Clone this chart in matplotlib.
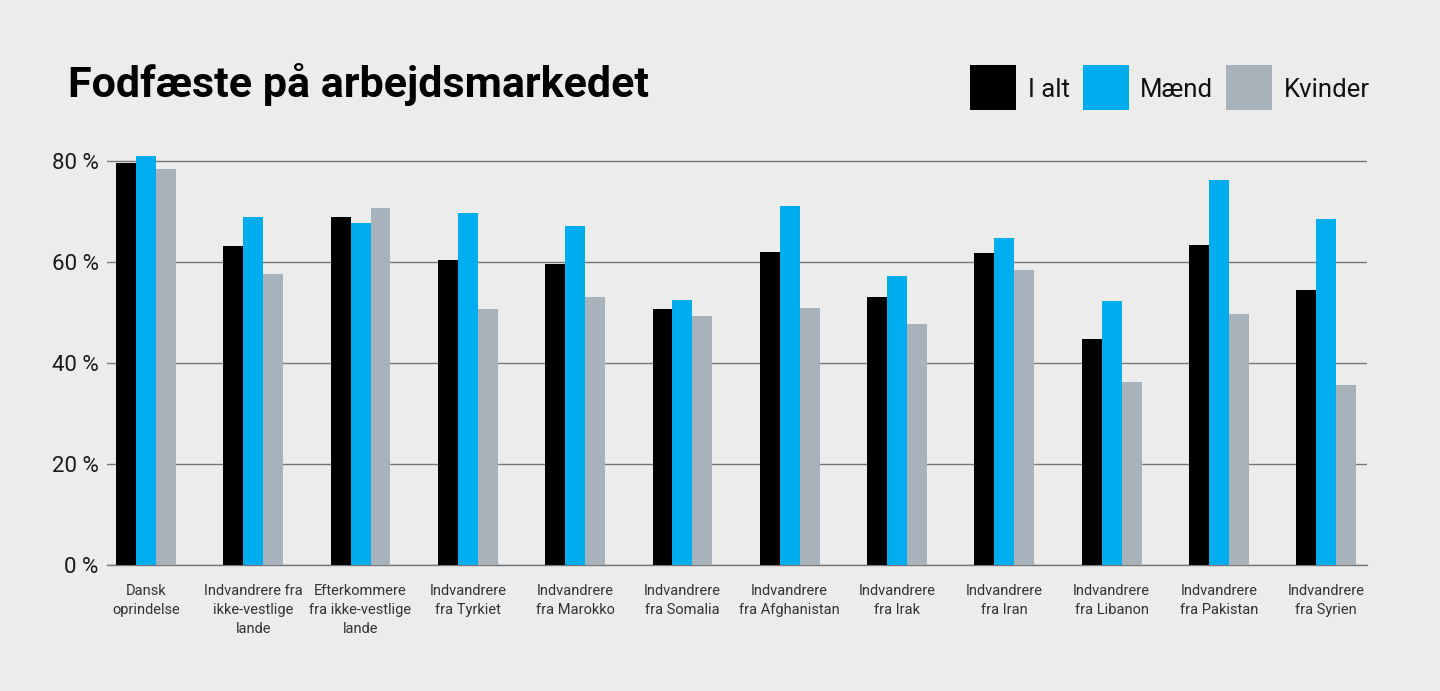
import matplotlib
matplotlib.use("Agg")
import matplotlib.pyplot as plt
from matplotlib.patches import Rectangle
import numpy as np

categories = [
    "Dansk\noprindelse",
    "Indvandrere fra\nikke-vestlige\nlande",
    "Efterkommere\nfra ikke-vestlige\nlande",
    "Indvandrere\nfra Tyrkiet",
    "Indvandrere\nfra Marokko",
    "Indvandrere\nfra Somalia",
    "Indvandrere\nfra Afghanistan",
    "Indvandrere\nfra Irak",
    "Indvandrere\nfra Iran",
    "Indvandrere\nfra Libanon",
    "Indvandrere\nfra Pakistan",
    "Indvandrere\nfra Syrien",
]
i_alt = [79.6, 63.1, 68.9, 60.5, 59.6, 50.7, 62.0, 53.0, 61.9, 44.8, 63.3, 54.4]
maend = [81.1, 68.9, 67.8, 69.8, 67.2, 52.5, 71.2, 57.2, 64.8, 52.3, 76.3, 68.5]
kvinder = [78.5, 57.7, 70.7, 50.7, 53.0, 49.3, 51.0, 47.7, 58.4, 36.2, 49.8, 35.6]
series_names = ["I alt", "Mænd", "Kvinder"]
yticks = [0, 20, 40, 60, 80]

BG = "#ececec"
colors = ["#000000", "#00aeef", "#a7b2ba"]

plt.rcParams['font.family'] = ['Roboto', 'DejaVu Sans']

W, H = 1440, 691
fig = plt.figure(figsize=(14.4, 6.91), dpi=100, facecolor=BG)
ax = fig.add_axes([107/W, 1 - 565/H, (1367-107)/W, 424/H])
ax.set_facecolor(BG)

x = np.arange(len(categories))
w = 0.186
for k, (vals, name) in enumerate(zip([i_alt, maend, kvinder], series_names)):
    ax.bar(x + (k - 1) * w, vals, width=w, color=colors[k], label=name, zorder=3, linewidth=0)

ax.set_xlim(-0.363, 11.38)
ax.set_ylim(0, 84)
ax.set_yticks(yticks)
ax.set_yticklabels([f"{v} %" for v in yticks], fontsize=16, color="#1a1a1a")
ax.set_xticks(x)
ax.set_xticklabels(categories, fontsize=10.5, color="#333333", linespacing=1.45, va="top")
ax.tick_params(axis="x", length=0, pad=14)
ax.tick_params(axis="y", length=0, pad=6)
for s in ["top", "right", "left"]:
    ax.spines[s].set_visible(False)
ax.spines["bottom"].set_color("#777777")
ax.spines["bottom"].set_linewidth(1)
ax.yaxis.grid(True, color="#777777", linewidth=1)
for gl in ax.yaxis.get_gridlines():
    gl.set_zorder(1)

fig.text(68/W, 1 - 97/H, "Fodfæste på arbejdsmarkedet", fontsize=31, fontweight="bold",
         color="#000000", ha="left", va="baseline")

# legend (manual placement)
sq_x = [970, 1083, 1226]
tx_x = [1028, 1140, 1284]
for k, name in enumerate(series_names):
    fig.patches.append(Rectangle((sq_x[k]/W, 1 - 110/H), 46/W, 45/H,
                                 transform=fig.transFigure, color=colors[k], linewidth=0))
    fig.text(tx_x[k]/W, 1 - 97/H, name, fontsize=18.5, color="#111111",
             ha="left", va="baseline")

fig.savefig("out.png", dpi=100, facecolor=BG)
